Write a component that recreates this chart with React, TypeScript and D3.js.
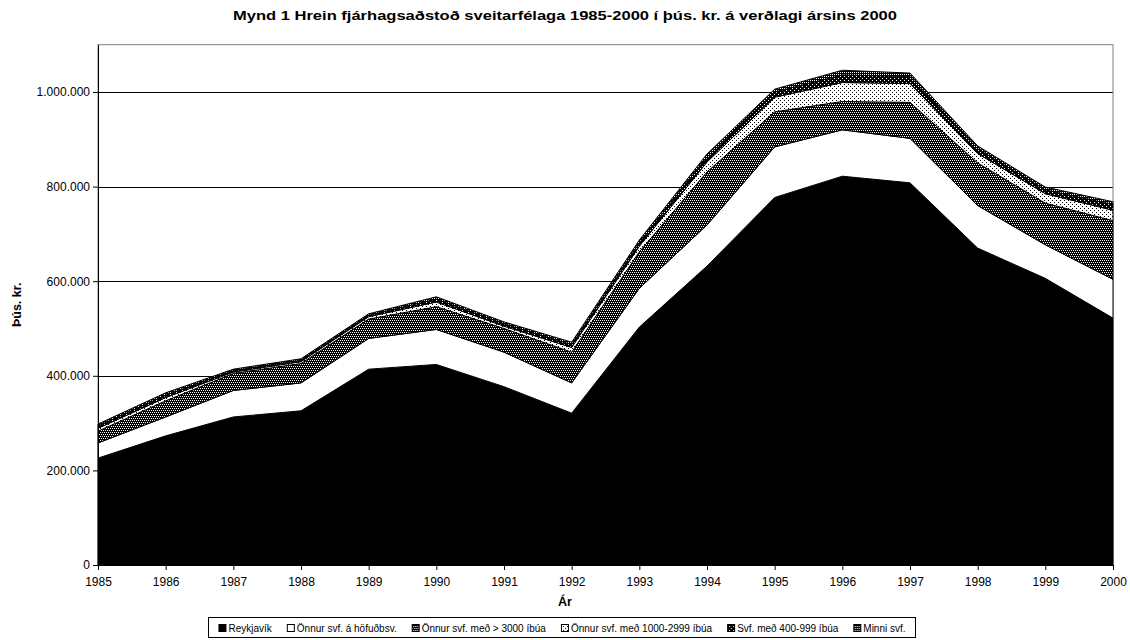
import React, { useEffect, useRef } from 'react';
import * as d3 from 'd3';

// Ár (x-ás)
const years = [1985, 1986, 1987, 1988, 1989, 1990, 1991, 1992, 1993, 1994, 1995, 1996, 1997, 1998, 1999, 2000];

// þús. kr., lesið af myndinni
const reykjavik = [226000, 273000, 313000, 326000, 414000, 424000, 377000, 321000, 503000, 632000, 777000, 822000, 808000, 670000, 606000, 522000];
const hofudborg = [32000, 40000, 56000, 59000, 65000, 74000, 73000, 64000, 82000, 87000, 107000, 98000, 94000, 90000, 71000, 82000];
const yfir3000 = [25000, 34000, 36000, 41000, 41000, 48000, 50000, 65000, 77000, 112000, 74000, 60000, 76000, 90000, 88000, 124000];
const fra1000 = [6000, 7000, 3000, 4000, 5000, 10000, 5000, 10000, 12000, 21000, 31000, 40000, 40000, 20000, 20000, 22000];
const fra400 = [5000, 5000, 3000, 3000, 3000, 6000, 5000, 6000, 7000, 11000, 11000, 16000, 15000, 10000, 8000, 12000];
const minni = [4000, 5000, 3000, 3000, 3000, 5000, 4000, 5000, 6000, 6000, 6000, 10000, 7000, 6000, 6000, 6000];

const seriesKeys = ['rvk', 'hofud', 'y3000', 'f1000', 'f400', 'minni'];
const seriesLabels = [
    'Reykjavík',
    'Önnur svf. á höfuðbsv.',
    'Önnur svf. með > 3000 íbúa',
    'Önnur svf. með 1000-2999 íbúa',
    'Svf. með 400-999 íbúa',
    'Minni svf.',
];
const seriesValues = [reykjavik, hofudborg, yfir3000, fra1000, fra400, minni];

const yTicks = [0, 200000, 400000, 600000, 800000, 1000000];

const fills = ['#000', '#fff', 'url(#pat3000)', 'url(#pat1000)', 'url(#pat400)', 'url(#patMinni)'];

const FONT = '"Liberation Sans", Arial, sans-serif';

const App: React.FC = () => {
    const ref = useRef<SVGSVGElement | null>(null);

    useEffect(() => {
        if (!ref.current) return;
        const svg = d3.select(ref.current);
        svg.selectAll('*').remove();

        const width = 1130;
        const height = 640;
        const margin = { top: 44.7, right: 17, bottom: 75, left: 98 };

        const defs = svg.append('defs');
        // dot patterns, roughly like the Excel fills
        const addPattern = (id: string, bg: string, dot: string, dots: [number, number][]) => {
            const p = defs.append('pattern')
                .attr('id', id)
                .attr('patternUnits', 'userSpaceOnUse')
                .attr('width', 4)
                .attr('height', 4);
            p.append('rect').attr('width', 4).attr('height', 4).attr('fill', bg);
            dots.forEach(([x, y]) => {
                p.append('rect').attr('x', x).attr('y', y).attr('width', 1).attr('height', 1).attr('fill', dot);
            });
        };
        addPattern('pat3000', '#000', '#fff', [[0, 0], [2, 0], [1, 2], [3, 2]]);
        addPattern('pat1000', '#fff', '#000', [[0, 0], [2, 2]]);
        addPattern('pat400', '#000', '#fff', [[0, 0], [2, 2]]);
        addPattern('patMinni', '#000', '#fff', [[0, 0], [2, 0], [0, 2], [2, 2]]);

        const x = d3.scaleLinear()
            .domain([years[0], years[years.length - 1]])
            .range([margin.left, width - margin.right]);

        const y = d3.scaleLinear()
            .domain([0, 1100000])
            .range([height - margin.bottom, margin.top]);

        const locale = d3.formatLocale({ decimal: ',', thousands: '.', grouping: [3], currency: ['', ''] });
        const fmt = locale.format(',');

        // gridlines
        svg.append('g')
            .selectAll('line')
            .data(yTicks.filter(d => d > 0))
            .join('line')
            .attr('x1', margin.left)
            .attr('x2', width - margin.right)
            .attr('y1', d => Math.round(y(d)) + 0.5)
            .attr('y2', d => Math.round(y(d)) + 0.5)
            .attr('stroke', '#000')
            .attr('stroke-width', 1);

        // plot area frame
        svg.append('rect')
            .attr('x', margin.left)
            .attr('y', margin.top)
            .attr('width', width - margin.right - margin.left)
            .attr('height', height - margin.bottom - margin.top)
            .attr('fill', 'none')
            .attr('stroke', '#808080')
            .attr('stroke-width', 1);

        // stacked areas
        const rows = years.map((yr, i) => {
            const row: any = { year: yr };
            seriesKeys.forEach((k, j) => { row[k] = seriesValues[j][i]; });
            return row;
        });
        const stacked = d3.stack<any>().keys(seriesKeys)(rows);

        const area = d3.area<any>()
            .x(d => x(d.data.year))
            .y0(d => y(d[0]))
            .y1(d => y(d[1]));

        svg.append('g')
            .selectAll('path')
            .data(stacked)
            .join('path')
            .attr('d', area)
            .attr('fill', (_d, i) => fills[i])
            .attr('stroke', '#000')
            .attr('stroke-width', 1)
            .attr('stroke-linejoin', 'round');

        // axes
        const xAxis = svg.append('g')
            .attr('transform', `translate(0,${height - margin.bottom})`)
            .call(d3.axisBottom(x).tickValues(years).tickFormat(d3.format('d')).tickSize(5).tickSizeOuter(0));
        xAxis.select('.domain').attr('stroke', '#000');
        xAxis.selectAll('text').attr('font-family', FONT).attr('font-size', 12).attr('fill', '#000').attr('dy', '1.05em');

        const yAxis = svg.append('g')
            .attr('transform', `translate(${margin.left},0)`)
            .call(d3.axisLeft(y).tickValues(yTicks).tickFormat(d => fmt(d as number)).tickSize(5).tickSizeOuter(0));
        yAxis.select('.domain').attr('stroke', '#000');
        yAxis.selectAll('text').attr('font-family', FONT).attr('font-size', 12).attr('fill', '#000');

        // title (stretched a little, as in the source)
        svg.append('text')
            .attr('x', width / 2)
            .attr('y', 20)
            .attr('text-anchor', 'middle')
            .attr('font-family', FONT)
            .attr('font-weight', 'bold')
            .attr('font-size', 13)
            .attr('textLength', 664)
            .attr('lengthAdjust', 'spacingAndGlyphs')
            .text('Mynd 1 Hrein fjárhagsaðstoð sveitarfélaga 1985-2000 í þús. kr. á verðlagi ársins 2000');

        svg.append('text')
            .attr('transform', `translate(21,${(margin.top + height - margin.bottom) / 2}) rotate(-90)`)
            .attr('text-anchor', 'middle')
            .attr('font-family', FONT)
            .attr('font-weight', 'bold')
            .attr('font-size', 12.5)
            .text('Þús. kr.');

        svg.append('text')
            .attr('x', 565)
            .attr('y', 606)
            .attr('text-anchor', 'middle')
            .attr('font-family', FONT)
            .attr('font-weight', 'bold')
            .attr('font-size', 12.5)
            .text('Ár');

        // legend
        const legend = svg.append('g');
        const legendBox = legend.append('rect')
            .attr('y', 617.5)
            .attr('height', 20)
            .attr('fill', '#fff')
            .attr('stroke', '#000')
            .attr('stroke-width', 1);
        let cx = 0;
        const gap = 15;
        const items = legend.append('g');
        seriesLabels.forEach((label, i) => {
            const g = items.append('g').attr('transform', `translate(${cx},0)`);
            g.append('rect')
                .attr('x', 0.5)
                .attr('y', 624.5)
                .attr('width', 7)
                .attr('height', 7)
                .attr('fill', fills[i])
                .attr('stroke', '#000');
            const t = g.append('text')
                .attr('x', 10)
                .attr('y', 632)
                .attr('font-family', FONT)
                .attr('font-size', 10)
                .attr('fill', '#000')
                .text(label);
            const w = (t.node() as SVGTextElement).getComputedTextLength();
            cx += 10 + w + gap;
        });
        const total = cx - gap;
        const startX = 562 - total / 2;
        items.attr('transform', `translate(${startX},0)`);
        legendBox.attr('x', Math.round(startX - 10) + 0.5).attr('width', Math.round(total + 20));
    }, []);

    return (
        <svg
            ref={ref}
            width={1130}
            height={640}
            style={{ position: 'absolute', left: 0, top: 0, background: '#fff' }}
        />
    );
};

export default App;
